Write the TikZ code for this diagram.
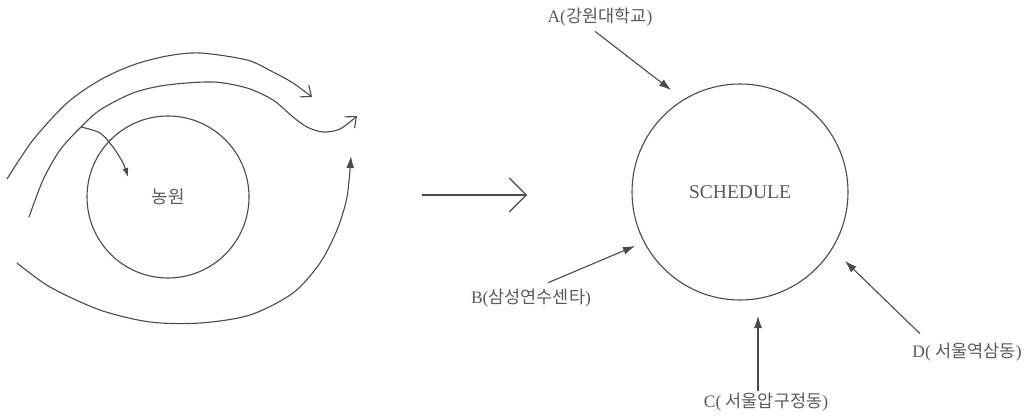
\documentclass[tikz,border=0pt]{standalone}
\usepackage{fontspec}
\setmainfont{Liberation Serif}
\newfontfamily\kr{Noto Sans CJK KR}
\usetikzlibrary{arrows.meta}
\definecolor{ink}{HTML}{4A4A4A}
\definecolor{txt}{HTML}{5A5A5A}
\begin{document}
\begin{tikzpicture}[x=1pt,y=-1pt,
 lbl/.style={text=txt, font=\fontsize{17.5}{20}\selectfont, inner sep=0pt},
 ring/.style={circle, draw=ink, line width=1.1pt, inner sep=0pt, text=txt},
 flow/.style={draw=ink, line width=1.1pt},
 openhead/.style={-{Straight Barb[length=9pt,width=15pt]}},
 solidhead/.style={-{Latex[length=12pt,width=8pt]}},
 smallhead/.style={-{Latex[length=9pt,width=6pt]}},
 bighead/.style={-{Straight Barb[length=17pt,width=34pt]}}]
\useasboundingbox (0,0) rectangle (1035,418);

% left figure
\node[ring, minimum size=162pt, font=\fontsize{18}{20}\selectfont] (farm) at (168,197) {\raisebox{-7pt}{\kr 농원}};
\draw[flow, openhead] plot[smooth] coordinates {(7,179) (33,140) (67,103) (100,80) (133,65) (167,56) (200,53) (247,60) (273,72) (293,83) (312,97)};
\coordinate (br) at (81,127);
\draw[flow, openhead] plot[smooth] coordinates {(29,217) (43,180) (60,150) (81,127) (100,110) (133,93) (167,85) (213,82) (247,88) (273,100) (293,117) (307,127) (323,132) (340,129) (357,116)};
\draw[flow, smallhead] plot[smooth] coordinates {(br) (100,133) (113,147) (123,163) (128,177)};
\draw[flow, solidhead] plot[smooth] coordinates {(17,263) (50,287) (100,310) (150,322) (200,323) (250,315) (293,293) (320,263) (337,230) (347,197) (351,156)};

% middle arrow
\coordinate (m1) at (422,195);
\coordinate (m2) at (527,195);
\draw[flow, bighead] (m1) -- (m2);

% right figure
\node[ring, minimum size=216pt, font=\fontsize{19.5}{22}\selectfont] (sched) at (740,192) {SCHEDULE};
\node[lbl] (lA) at (600,17) {A({\kr 강원대학교})};
\node[lbl] (lB) at (531,298) {B({\kr 삼성연수센타})};
\node[lbl] (lC) at (766,402) {C( {\kr 서울압구정동})};
\node[lbl] (lD) at (967,352) {D( {\kr 서울역삼동})};
\coordinate (tA) at (671,90);
\coordinate (tB) at (635,246);
\coordinate (tC) at (758,316);
\coordinate (tD) at (845,261);
\draw[flow, solidhead] ([shift={(-5,5)}]lA.south) -- (tA);
\draw[flow, solidhead] ([shift={(17,-6)}]lB.north) -- (tB);
\draw[flow, solidhead] ([shift={(-8,-2)}]lC.north) -- (tC);
\draw[flow, solidhead] ([shift={(-47,-9)}]lD.north) -- (tD);
\end{tikzpicture}
\end{document}
